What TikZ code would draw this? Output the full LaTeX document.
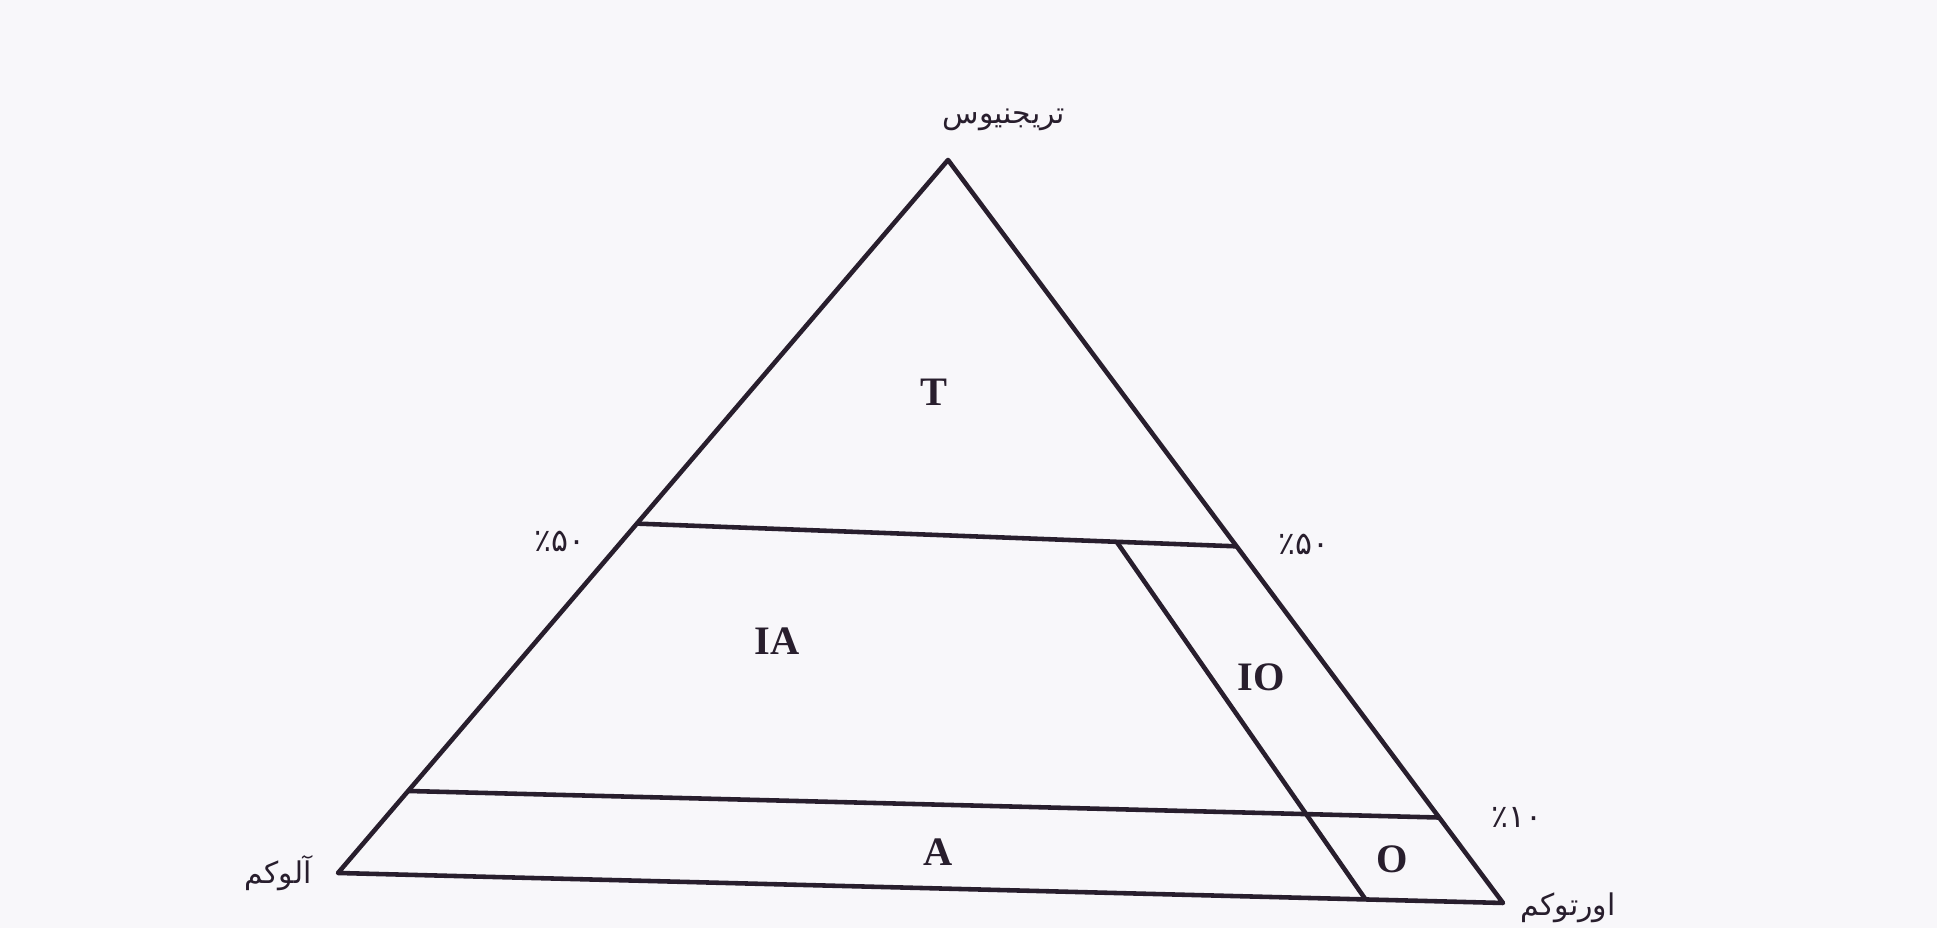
\documentclass[tikz,border=0pt]{standalone}
\usepackage{fontspec}
\setmainfont{Liberation Serif}
\newfontfamily\arabicfont[Script=Arabic]{DejaVu Sans}
\newfontfamily\digitfont{DejaVu Sans}
\TeXXeTstate=1
\usetikzlibrary{calc}
\definecolor{inkline}{RGB}{40,30,45}
\definecolor{paperbg}{RGB}{248,247,250}
\tikzset{
  edgeline/.style={draw=inkline, line width=1.3pt, line join=round},
  zonelabel/.style={font=\fontsize{11.5}{13}\selectfont\bfseries, text=inkline, inner sep=0pt},
  pctlabel/.style={font=\digitfont\fontsize{9}{11}\selectfont, text=inkline, inner sep=0pt},
  cornerlabel/.style={font=\arabicfont\fontsize{8.5}{10}\selectfont, text=inkline, inner sep=0pt}
}
\begin{document}
\begin{tikzpicture}
  % Background
  \fill[paperbg] (0,0) rectangle (19.37,9.28);
  \useasboundingbox (0,0) rectangle (19.37,9.28);

  % Corners
  \coordinate (apex) at (9.48,7.68);
  \coordinate (bl)   at (3.38,0.55);
  \coordinate (br)   at (15.03,0.25);
  \coordinate (fiftyl) at ($(apex)!0.51!(bl)$);
  \coordinate (fiftyr) at ($(apex)!0.52!(br)$);
  \coordinate (tenl)   at ($(apex)!0.885!(bl)$);
  \coordinate (tenr)   at ($(apex)!0.885!(br)$);
  \coordinate (iotop)  at ($(fiftyl)!0.80!(fiftyr)$);
  \coordinate (iobot)  at ($(bl)!0.882!(br)$);

  % Triangle and cuts
  \draw[edgeline] (apex) -- (bl) -- (br) -- cycle;
  \draw[edgeline] (fiftyl) -- (fiftyr);
  \draw[edgeline] (tenl) -- (tenr);
  \draw[edgeline] (iotop) -- (iobot);

  % Zones
  \node[zonelabel] (zt)  at (9.34,5.36) {T};
  \node[zonelabel] (zia) at (7.77,2.87) {IA};
  \node[zonelabel] (zio) at (12.61,2.51) {IO};
  \node[zonelabel] (za)  at (9.38,0.76) {A};
  \node[zonelabel] (zo)  at (13.92,0.69) {O};

  % Corner names
  \node[cornerlabel] (trig) at (10.04,8.08) {\beginR تریجنیوس\endR};
  \node[cornerlabel] (allo) at (2.78,0.55) {\beginR آلوکم\endR};
  \node[cornerlabel] (orto) at (15.68,0.20) {\beginR اورتوکم\endR};

  % Percentages
  \node[pctlabel] (pfl) at (5.60,3.87) {٪۵۰};
  \node[pctlabel] (pfr) at (13.04,3.84) {٪۵۰};
  \node[pctlabel] (pte) at (15.17,1.11) {٪۱۰};
\end{tikzpicture}
\end{document}
